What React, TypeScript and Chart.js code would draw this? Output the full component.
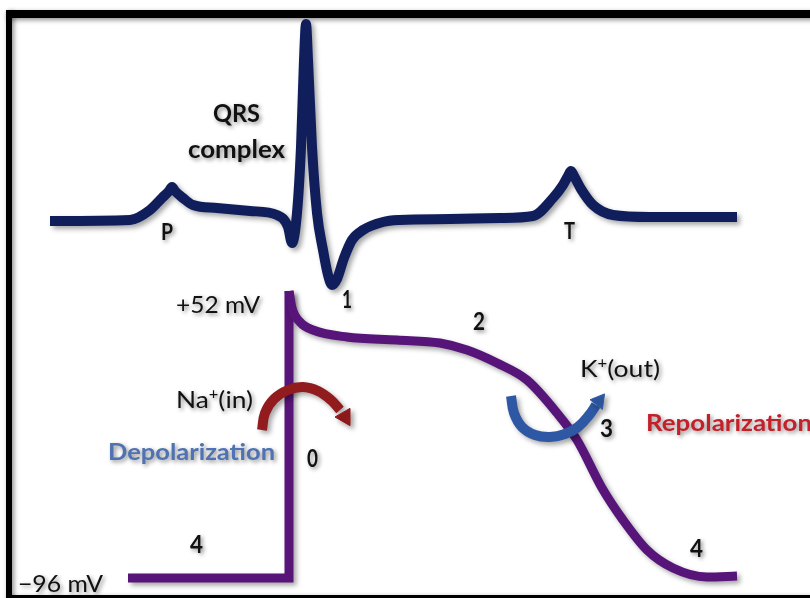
import React, { useEffect, useRef } from "react";
import { Chart, registerables } from "chart.js";

Chart.register(...registerables);

// ECG trace (x, y in picture units, y grows downward)
const ECG_X = [50, 130, 150, 162, 169, 172, 175, 183, 193, 217, 250, 277, 288, 292, 297, 301, 304, 306, 308, 312, 317, 323, 328, 332, 337, 344, 352, 363, 383, 400, 450, 500, 533, 553, 563, 568, 571, 574, 581, 593, 613, 650, 737];
const ECG_Y = [221, 220, 210, 198, 191, 187, 191, 198, 205, 208, 211, 215, 227, 243, 213, 147, 60, 24, 60, 147, 213, 250, 275, 285, 279, 258, 240, 230, 222, 220, 219, 218, 216, 198, 185, 176, 171, 176, 189, 205, 215, 217, 217];

// Action potential: resting + upstroke (phase 4 -> 0)
const AP_REST_X = [128, 289, 289];
const AP_REST_Y = [578, 578, 291];

// Action potential: phases 1, 2, 3, 4
const AP_CURVE_X = [289, 292, 300, 313, 347, 397, 440, 467, 497, 527, 557, 577, 602, 623, 647, 673, 707, 737];
const AP_CURVE_Y = [291, 308, 322, 330, 337, 340, 343, 350, 363, 380, 413, 440, 488, 520, 550, 568, 577, 576];

// Na+ inward arrow
const NA_X = [262, 265, 274, 288, 303, 318, 331, 340];
const NA_Y = [430, 413, 399, 390, 387, 391, 400, 410];
const NA_HEAD = { x: 345, y: 417 };

// K+ outward arrow
const K_X = [511, 514, 522, 535, 550, 565, 578, 590, 596];
const K_Y = [396, 413, 427, 435, 437, 434, 427, 414, 405];
const K_HEAD = { x: 599, y: 401 };

// Text labels
const LABEL_TEXT = ["QRS", "complex", "P", "T", "1", "2", "+52 mV", "Na⁺(in)", "Depolarization", "0", "K⁺(out)", "3", "Repolarization", "4", "4", "−96 mV"];

// layout for each label: [left, baseline, size, weight, color, width]
const LABEL_LAYOUT: [number, number, number, string, string, number][] = [
  [213, 122, 24, "bold", "#111", 47],
  [188, 158, 24, "bold", "#111", 97],
  [161, 240, 23, "bold", "#111", 12],
  [564, 239, 23, "bold", "#111", 11],
  [342, 308, 24, "bold", "#111", 10],
  [473, 330, 24, "bold", "#111", 12],
  [176, 313, 24, "normal", "#111", 84],
  [176, 408, 24, "normal", "#111", 77],
  [108, 460, 22, "bold", "#4f72b3", 167],
  [307, 467, 24, "bold", "#111", 11],
  [580, 377, 24, "normal", "#111", 80],
  [600, 437, 24, "bold", "#111", 13],
  [646, 431, 22, "bold", "#c4202a", 166],
  [190, 553, 24, "bold", "#111", 13],
  [690, 557, 24, "bold", "#111", 13],
  [18, 592, 24, "normal", "#111", 85],
];

const pts = (xs: number[], ys: number[]) => xs.map((x, i) => ({ x, y: ys[i] }));

function drawLabel(ctx: CanvasRenderingContext2D, text: string, x: number, y: number, size: number, weight: string, color: string, width: number) {
  const fam = "Lato, 'Open Sans', sans-serif";
  const parts: { t: string; sup: boolean }[] = [];
  for (const ch of text) {
    const sup = ch === "⁺";
    const t = sup ? "+" : ch;
    const last = parts[parts.length - 1];
    if (last && last.sup === sup) last.t += t;
    else parts.push({ t, sup });
  }
  const fontFor = (sup: boolean) => `${weight} ${sup ? Math.round(size * 0.62) : size}px ${fam}`;
  let total = 0;
  for (const p of parts) {
    ctx.font = fontFor(p.sup);
    total += ctx.measureText(p.t).width;
  }
  ctx.save();
  ctx.translate(x, y);
  ctx.scale(width / total, 1);
  ctx.fillStyle = color;
  ctx.textBaseline = "alphabetic";
  ctx.shadowColor = "rgba(0,0,0,0.45)";
  ctx.shadowBlur = 4;
  ctx.shadowOffsetX = 2;
  ctx.shadowOffsetY = 2;
  let cx = 0;
  for (const p of parts) {
    ctx.font = fontFor(p.sup);
    ctx.fillText(p.t, cx, p.sup ? -size * 0.38 : 0);
    cx += ctx.measureText(p.t).width;
  }
  ctx.restore();
}

const framePlugin = {
  id: "frame",
  beforeDraw(chart: any) {
    const ctx = chart.ctx as CanvasRenderingContext2D;
    ctx.save();
    ctx.fillStyle = "#ffffff";
    ctx.fillRect(0, 0, chart.width, chart.height);
    ctx.shadowColor = "rgba(0,0,0,0.45)";
    ctx.shadowBlur = 5;
    ctx.shadowOffsetX = 2;
    ctx.shadowOffsetY = 2;
    ctx.fillStyle = "#000000";
    ctx.fillRect(6, 10, 820, 8);
    ctx.fillRect(6, 10, 6, 600);
    ctx.fillRect(6, 595, 820, 6);
    ctx.restore();
  },
  beforeDatasetDraw(chart: any) {
    const ctx = chart.ctx as CanvasRenderingContext2D;
    ctx.save();
    ctx.shadowColor = "rgba(0,0,0,0.35)";
    ctx.shadowBlur = 5;
    ctx.shadowOffsetX = 3;
    ctx.shadowOffsetY = 3;
  },
  afterDatasetDraw(chart: any) {
    chart.ctx.restore();
  },
  afterDatasetsDraw(chart: any) {
    const ctx = chart.ctx as CanvasRenderingContext2D;
    const xs = chart.scales.x;
    const ys = chart.scales.y;
    LABEL_TEXT.forEach((t, i) => {
      const [lx, ly, size, weight, color, w] = LABEL_LAYOUT[i];
      drawLabel(ctx, t, xs.getPixelForValue(lx), ys.getPixelForValue(ly), size, weight, color, w);
    });
  },
};

export default function App() {
  const ref = useRef<HTMLCanvasElement | null>(null);
  useEffect(() => {
    if (!ref.current) return;
    const navy = "#101e5c";
    const purple = "#571479";
    const red = "#921b1d";
    const blue = "#2e58a4";
    const chart = new Chart(ref.current, {
      type: "line",
      data: {
        datasets: [
          {
            data: [NA_HEAD],
            showLine: false,
            pointStyle: "triangle",
            pointRadius: 10,
            rotation: 150,
            backgroundColor: red,
            borderColor: red,
            borderWidth: 1,
          },
          {
            data: pts(NA_X, NA_Y),
            borderColor: red,
            borderWidth: 10,
            tension: 0.4,
            pointRadius: 0,
          },
          {
            data: [K_HEAD],
            showLine: false,
            pointStyle: "triangle",
            pointRadius: 9,
            rotation: 38,
            backgroundColor: blue,
            borderColor: blue,
            borderWidth: 1,
          },
          {
            data: pts(K_X, K_Y),
            borderColor: blue,
            borderWidth: 10,
            tension: 0.4,
            pointRadius: 0,
          },
          {
            data: pts(ECG_X, ECG_Y),
            borderColor: navy,
            borderWidth: 10,
            cubicInterpolationMode: "monotone",
            borderJoinStyle: "round",
            pointRadius: 0,
          },
          {
            data: pts(AP_CURVE_X, AP_CURVE_Y),
            borderColor: purple,
            borderWidth: 9,
            cubicInterpolationMode: "monotone",
            borderJoinStyle: "round",
            pointRadius: 0,
          },
          {
            data: pts(AP_REST_X, AP_REST_Y),
            borderColor: purple,
            borderWidth: 9,
            tension: 0,
            borderJoinStyle: "miter",
            pointRadius: 0,
          },
        ] as any,
      },
      options: {
        animation: false,
        responsive: false,
        devicePixelRatio: 1,
        layout: { padding: 0, autoPadding: false },
        plugins: { legend: { display: false }, tooltip: { enabled: false } },
        events: [],
        scales: {
          x: { type: "linear", min: 0, max: 810, display: false },
          y: { type: "linear", min: 0, max: 598, reverse: true, display: false },
        },
      } as any,
      plugins: [framePlugin],
    });
    return () => chart.destroy();
  }, []);
  return (
    <div style={{ position: "absolute", left: 0, top: 0, width: 810, height: 598, background: "#fff" }}>
      <canvas ref={ref} width={810} height={598} style={{ display: "block" }} />
    </div>
  );
}
